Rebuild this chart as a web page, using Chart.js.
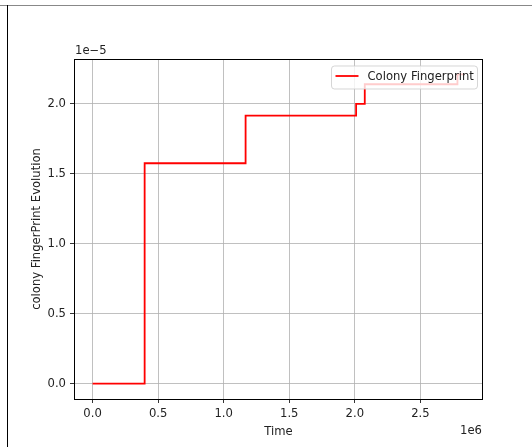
<!DOCTYPE html>
<html>
<head>
<meta charset="utf-8">
<script src="https://cdn.jsdelivr.net/npm/chart.js@4"></script>
<style>
  html, body { margin: 0; padding: 0; background: #fff; }
  #wrap { position: relative; width: 532px; height: 447px; }
</style>
</head>
<body>
<div id="wrap"><canvas id="myChart" width="532" height="447"></canvas></div>
<script>
// data (x in seconds, y raw)
const timeValues = [0, 397000, 1167000, 2010000, 2076000, 2783000, 2836000];
const fingerprintValues = [0, 1.575e-5, 1.916e-5, 2.0e-5, 2.14e-5, 2.21e-5, 2.21e-5];
const xTickValues = [0, 500000, 1000000, 1500000, 2000000, 2500000];
const yTickValues = [0, 0.5e-5, 1.0e-5, 1.5e-5, 2.0e-5];
const seriesLabel = 'Colony Fingerprint';

const FONT = 'DejaVu Sans';
const FSIZE = 11.6;

const points = timeValues.map((t, i) => ({ x: t, y: fingerprintValues[i] }));

// frame, spines, offset texts, axis titles, legend
const mplLook = {
    id: 'mplLook',
    beforeDraw(chart) {
        const c = chart.ctx;
        c.save();
        c.fillStyle = '#fff';
        c.fillRect(0, 0, chart.width, chart.height);
        c.lineWidth = 1;
        c.strokeStyle = '#888';
        c.beginPath();
        c.moveTo(0, 5.5);
        c.lineTo(chart.width, 5.5);
        c.stroke();
        c.strokeStyle = '#000';
        c.beginPath();
        c.moveTo(7.5, 5);
        c.lineTo(7.5, chart.height);
        c.stroke();
        c.restore();
    },
    afterDatasetsDraw(chart) {
        const c = chart.ctx;
        const a = chart.chartArea;
        c.save();
        // legend
        const lx = 331.5, ly = 66, lw = 146, lh = 23;
        c.beginPath();
        c.roundRect(lx, ly, lw, lh, 3);
        c.fillStyle = 'rgba(255,255,255,0.8)';
        c.fill();
        c.strokeStyle = 'rgba(204,204,204,0.8)';
        c.lineWidth = 1;
        c.stroke();
        c.strokeStyle = '#ff0000';
        c.lineWidth = 1.8;
        c.beginPath();
        c.moveTo(lx + 4, ly + 10);
        c.lineTo(lx + 27, ly + 10);
        c.stroke();
        c.fillStyle = '#222';
        c.font = FSIZE + 'px "' + FONT + '"';
        c.textAlign = 'left';
        c.textBaseline = 'middle';
        c.fillText(seriesLabel, lx + 36, ly + 10.5);

        // spines
        c.strokeStyle = '#000';
        c.lineWidth = 1;
        c.strokeRect(Math.round(a.left) + 0.5, Math.round(a.top) + 0.5,
            Math.round(a.right - a.left) - 1, Math.round(a.bottom - a.top));

        // offset texts and titles
        c.textBaseline = 'middle';
        c.textAlign = 'left';
        c.fillText('1e\u22125', a.left + 1, 51);
        c.textAlign = 'right';
        c.fillText('1e6', a.right - 1, 431);
        c.textAlign = 'center';
        c.fillText('Time', (a.left + a.right) / 2, 431.5);
        c.translate(37, (a.top + a.bottom) / 2);
        c.rotate(-Math.PI / 2);
        c.fillText('colony FingerPrint Evolution', 0, 0);
        c.restore();
    }
};

const ctx = document.getElementById('myChart').getContext('2d');
const myChart = new Chart(ctx, {
    type: 'line',
    data: {
        datasets: [{
            label: seriesLabel,
            data: points,
            stepped: 'before',
            borderColor: '#ff0000',
            borderWidth: 1.8,
            pointRadius: 0,
            fill: false
        }]
    },
    options: {
        responsive: false,
        animation: false,
        layout: { padding: { left: 0, right: 49, top: 59, bottom: 0 } },
        plugins: {
            legend: { display: false },
            tooltip: { enabled: false }
        },
        scales: {
            x: {
                type: 'linear',
                min: -141800,
                max: 2977800,
                afterFit: (s) => { s.height = 48; },
                afterBuildTicks: (s) => { s.ticks = xTickValues.map(v => ({ value: v })); },
                grid: { color: '#b0b0b0', lineWidth: 0.8, tickColor: '#000', tickLength: 4 },
                border: { display: false },
                ticks: {
                    color: '#222',
                    padding: 4,
                    maxRotation: 0,
                    font: { family: FONT, size: FSIZE },
                    callback: (v) => (v / 1e6).toFixed(1)
                }
            },
            y: {
                type: 'linear',
                min: -0.1105e-5,
                max: 2.3205e-5,
                afterFit: (s) => { s.width = 74; },
                afterBuildTicks: (s) => { s.ticks = yTickValues.map(v => ({ value: v })); },
                grid: { color: '#b0b0b0', lineWidth: 0.8, tickColor: '#000', tickLength: 4 },
                border: { display: false },
                ticks: {
                    color: '#222',
                    padding: 4,
                    font: { family: FONT, size: FSIZE },
                    callback: (v) => (v / 1e-5).toFixed(1)
                }
            }
        }
    },
    plugins: [mplLook]
});
</script>
</body>
</html>
